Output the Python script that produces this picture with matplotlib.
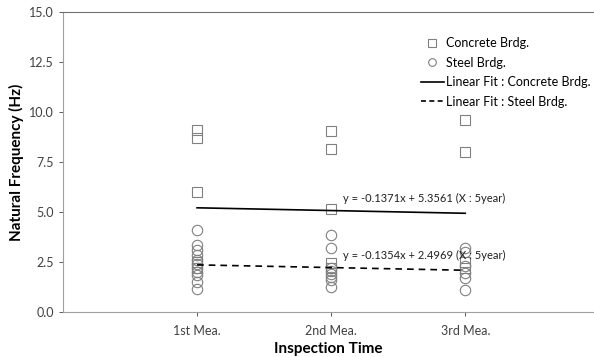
import numpy as np
import matplotlib
matplotlib.use('Agg')
import matplotlib.pyplot as plt
from matplotlib.lines import Line2D

plt.rcParams['font.family'] = ['Lato', 'DejaVu Sans']

# Data
categories = ['1st Mea.', '2nd Mea.', '3rd Mea.']
concrete = [
    [9.1, 8.7, 6.0, 2.5, 2.2],
    [9.05, 8.15, 5.15, 2.45, 2.2],
    [9.6, 8.0, 2.5, 2.2],
]
steel = [
    [4.1, 3.35, 3.1, 2.85, 2.6, 2.4, 2.2, 2.0, 1.85, 1.5, 1.15],
    [3.85, 3.2, 2.2, 2.05, 1.9, 1.75, 1.6, 1.25],
    [3.2, 3.0, 2.3, 1.95, 1.7, 1.1],
]
# linear fit coefficients printed on the chart (X: 5year step)
fit_concrete = (-0.1371, 5.3561)
fit_steel = (-0.1354, 2.4969)
fit_x = [1, 2, 3]

fig = plt.figure(figsize=(5.94, 3.57), dpi=100)
ax = fig.add_axes([0.106, 0.126, 0.894, 0.839])

gray = '#808080'
for i, vals in enumerate(concrete):
    ax.plot([i + 1] * len(vals), vals, 's', ms=6.5, mfc='none', mec=gray, mew=0.8)
for i, vals in enumerate(steel):
    ax.plot([i + 1] * len(vals), vals, 'o', ms=7.5, mfc='none', mec=gray, mew=0.8)

fx = np.array(fit_x)
ax.plot(fx, fit_concrete[0] * fx + fit_concrete[1], '-', color='black', lw=1.2)
ax.plot(fx, fit_steel[0] * fx + fit_steel[1], '--', color='black', lw=1.2, dashes=(4, 3))

ax.text(2.09, 5.4, 'y = -0.1371x + 5.3561 (X : 5year)', fontsize=8, color='#202020',
        va='bottom')
ax.text(2.09, 2.55, 'y = -0.1354x + 2.4969 (X : 5year)', fontsize=8, color='#202020',
        va='bottom')

ax.set_xlim(0, 3.96)
ax.set_ylim(0, 15)
ax.set_yticks(np.arange(0, 15.1, 2.5))
ax.set_yticklabels([f'{v:.1f}' for v in np.arange(0, 15.1, 2.5)])
ax.set_xticks([1, 2, 3])
ax.set_xticklabels(categories)
ax.tick_params(colors='#404040', labelsize=9, length=3, width=0.6)
ax.tick_params(axis='x', pad=6)

for s in ['left', 'bottom']:
    ax.spines[s].set_color('#a0a0a0')
ax.spines['top'].set_color('#707070')
ax.spines['right'].set_visible(False)

ax.set_xlabel('Inspection Time', fontsize=11, fontweight='bold', labelpad=4)
ax.set_ylabel('Natural Frequency (Hz)', fontsize=11, fontweight='bold', labelpad=4)

handles = [
    Line2D([], [], ls='none', marker='s', ms=5.5, mfc='none', mec=gray, mew=0.8),
    Line2D([], [], ls='none', marker='o', ms=5.5, mfc='none', mec=gray, mew=0.8),
    Line2D([], [], ls='-', color='black', lw=1.2),
    Line2D([], [], ls='--', color='black', lw=1.2, dashes=(3, 2)),
]
labels = ['Concrete Brdg.', 'Steel Brdg.', 'Linear Fit : Concrete Brdg.',
          'Linear Fit : Steel Brdg.']
ax.legend(handles, labels, loc='upper right', frameon=False, fontsize=9,
          handlelength=1.8, handletextpad=0.2, labelspacing=0.6,
          bbox_to_anchor=(1.015, 0.955))

plt.savefig('out.png', dpi=100)
